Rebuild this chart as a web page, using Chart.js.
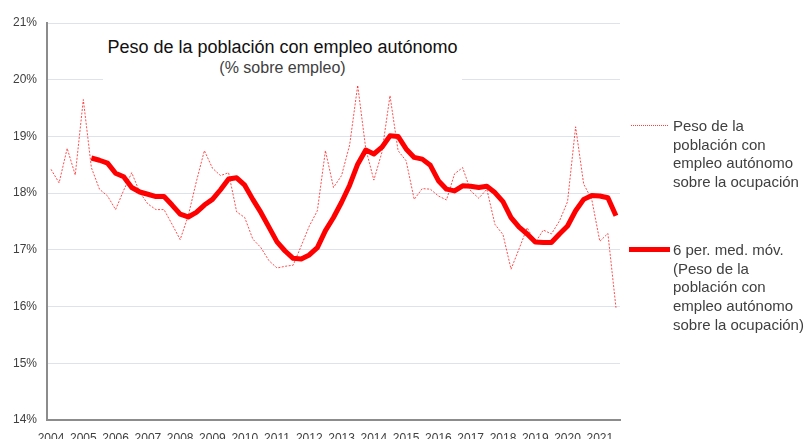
<!DOCTYPE html>
<html>
<head>
<meta charset="utf-8">
<script src="https://cdn.jsdelivr.net/npm/chart.js@4/dist/chart.umd.min.js"></script>
<style>
    body { margin: 0; background: #fff; }
    #wrap { position: relative; width: 805px; height: 439px; overflow: hidden; font-family: "Liberation Sans", Arial, sans-serif; }
    #chart { position: absolute; left: 0; top: 0; }
    .title-box { position: absolute; left: 103px; top: 33px; width: 359px; height: 50px; background: #fff; text-align: center; }
    .title { font-size: 18px; line-height: 20px; color: #111; margin-top: 4px; }
    .subtitle { font-size: 16px; line-height: 20px; color: #404040; margin-top: 1px; }
    .legend-item { position: absolute; left: 629px; font-size: 15px; line-height: 18.7px; color: #404040; }
    .legend-item .txt { position: absolute; left: 44px; top: 0; white-space: nowrap; }
    .legend-item .swatch { position: absolute; left: 0; width: 41px; }
</style>
</head>
<body>
<div id="wrap">
    <canvas id="chart" width="805" height="439"></canvas>
    <div class="title-box">
        <div class="title">Peso de la población con empleo autónomo</div>
        <div class="subtitle">(% sobre empleo)</div>
    </div>
    <div class="legend-item" style="top:117px;">
        <div class="swatch" style="top:8px; left:2px; width:37px; border-top:1px dotted rgba(255,0,0,0.75);"></div>
        <div class="txt">Peso de la<br>población con<br>empleo autónomo<br>sobre la ocupación</div>
    </div>
    <div class="legend-item" style="top:241px;">
        <div class="swatch" style="top:6px; height:5px; background:#ff0000;"></div>
        <div class="txt">6 per. med. móv.<br>(Peso de la<br>población con<br>empleo autónomo<br>sobre la ocupación)</div>
    </div>
</div>
<script>
// años (trimestral, 2004T1 - 2021T3)
const years = [2004, 2005, 2006, 2007, 2008, 2009, 2010, 2011, 2012, 2013,
    2014, 2015, 2016, 2017, 2018, 2019, 2020, 2021];
const lastYearQuarters = 3;

// peso autonomos sobre ocupacion (%)
const pesoAutonomos = [
    18.42, 18.18, 18.79, 18.32,
    19.65, 18.45, 18.07, 17.95,
    17.71, 18.05, 18.36, 18.01,
    17.81, 17.71, 17.71, 17.45,
    17.18, 17.60, 18.20, 18.75,
    18.44, 18.31, 18.36, 17.67,
    17.57, 17.19, 17.04, 16.81,
    16.68, 16.71, 16.73, 17.07,
    17.42, 17.69, 18.75, 18.10,
    18.31, 18.85, 19.90, 18.78,
    18.23, 18.72, 19.72, 18.75,
    18.57, 17.89, 18.08, 18.07,
    17.95, 17.88, 18.34, 18.45,
    18.04, 17.91, 18.07, 17.45,
    17.27, 16.66, 17.02, 17.39,
    17.13, 17.35, 17.28, 17.51,
    17.85, 19.17, 18.16, 17.89,
    17.15, 17.29, 15.98
];

// media movil 6 periodos
const mediaMovil = [
    null, null, null, null,
    null, 18.62, 18.58, 18.53,
    18.35, 18.29, 18.10, 18.02,
    17.98, 17.94, 17.94, 17.79,
    17.63, 17.58, 17.66, 17.79,
    17.89, 18.06, 18.25, 18.27,
    18.14, 17.89, 17.66, 17.40,
    17.14, 16.98, 16.85, 16.84,
    16.91, 17.04, 17.34, 17.57,
    17.84, 18.14, 18.51, 18.76,
    18.69, 18.81, 19.01, 19.00,
    18.78, 18.63, 18.60, 18.49,
    18.22, 18.07, 18.04, 18.13,
    18.12, 18.10, 18.12, 18.01,
    17.85, 17.57, 17.40, 17.28,
    17.14, 17.13, 17.13, 17.28,
    17.42, 17.69, 17.89, 17.96,
    17.95, 17.92, 17.60
];

const yTicks = [14, 15, 16, 17, 18, 19, 20, 21];

const labels = [];
years.forEach((y, idx) => {
    const n = idx === years.length - 1 ? lastYearQuarters : 4;
    for (let q = 1; q <= n; q++) labels.push(y + 'T' + q);
});

const ctx = document.getElementById('chart').getContext('2d');

new Chart(ctx, {
    type: 'line',
    data: {
        labels: labels,
        datasets: [{
            label: 'Peso de la población con empleo autónomo sobre la ocupación',
            data: pesoAutonomos,
            borderColor: 'rgba(255, 0, 0, 0.7)',
            borderWidth: 1,
            borderDash: [2, 1.5],
            pointRadius: 0,
            tension: 0,
            order: 1
        }, {
            label: '6 per. med. móv.',
            data: mediaMovil,
            borderColor: '#ff0000',
            borderWidth: 5,
            pointRadius: 0,
            tension: 0,
            spanGaps: false,
            borderJoinStyle: 'round',
            order: 2
        }]
    },
    options: {
        responsive: false,
        animation: false,
        layout: {
            padding: { top: 23, right: 185, bottom: 0, left: 0 }
        },
        plugins: {
            legend: { display: false },
            tooltip: { enabled: false }
        },
        scales: {
            x: {
                offset: true,
                grid: { display: false, drawTicks: false },
                border: { color: '#8c8c8c', width: 2 },
                ticks: {
                    autoSkip: false,
                    maxRotation: 0,
                    padding: 11,
                    color: '#404040',
                    font: { family: 'Liberation Sans', size: 12 },
                    callback: function(value, index) {
                        return index % 4 === 0 ? labels[index].slice(0, 4) : '';
                    }
                },
                afterFit: function(scale) { scale.height = 19; }
            },
            y: {
                min: yTicks[0],
                max: yTicks[yTicks.length - 1],
                grid: {
                    color: '#dde2ec',
                    lineWidth: 1,
                    drawTicks: false
                },
                border: { color: '#8c8c8c', width: 2 },
                ticks: {
                    stepSize: 1,
                    padding: 10,
                    color: '#404040',
                    font: { family: 'Liberation Sans', size: 12 },
                    callback: function(value) {
                        return value + '%';
                    }
                },
                afterFit: function(scale) { scale.width = 47; }
            }
        }
    }
});
</script>
</body>
</html>
